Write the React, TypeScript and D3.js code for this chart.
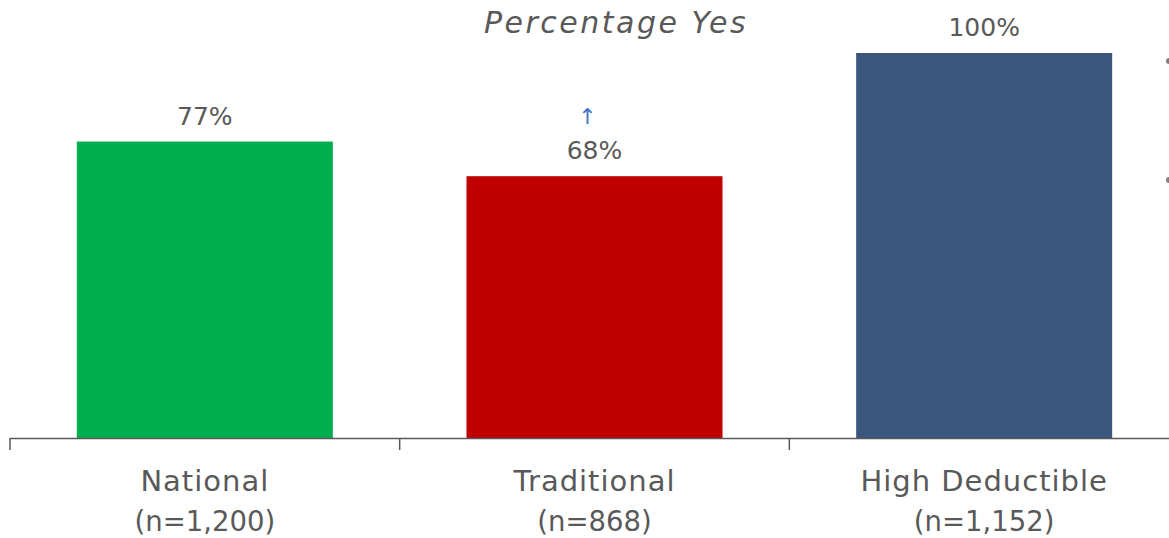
import React from "react";
import * as d3 from "d3";

const categories = ["National", "Traditional", "High Deductible"];
const sampleSizes = ["(n=1,200)", "(n=868)", "(n=1,152)"];
const values = [77, 68, 100];
const colors = ["#00AE4D", "#C00000", "#3A557E"];
const arrows = ["", "↑", ""];
const title = "Percentage Yes";

const W = 1169;
const H = 538;
const FONT = "'DejaVu Sans', sans-serif";

export default function App() {
  const x = d3.scaleBand<string>().domain(categories).range([10, 1179]).paddingInner(0.343).paddingOuter(0.1715);
  const band = d3.scaleBand<string>().domain(categories).range([10, 1179]);
  const y = d3.scaleLinear().domain([0, 100]).range([438, 53]);
  const ticks = [...categories.map((c) => band(c) as number), 1179];
  return (
    <svg width={W} height={H} style={{ position: "absolute", left: 0, top: 0, background: "#fff" }}>
      <text x={616} y={33} textAnchor="middle" fontFamily={FONT} fontStyle="italic" fontSize={30} letterSpacing={2.5} fill="#595959">
        {title}
      </text>
      {categories.map((c, i) => (
        <g key={c}>
          <rect x={x(c)} y={y(values[i])} width={x.bandwidth()} height={y(0) - y(values[i])} fill={colors[i]} />
          <text
            x={(x(c) as number) + x.bandwidth() / 2}
            y={y(values[i]) - 17}
            textAnchor="middle"
            fontFamily={FONT}
            fontSize={25}
            fill="#595959"
          >
            {values[i]}%
          </text>
          {arrows[i] && (
            <text
              x={(x(c) as number) + x.bandwidth() / 2 - 7}
              y={y(values[i]) - 52}
              textAnchor="middle"
              fontFamily={FONT}
              fontSize={22}
              fill="#4472C4"
            >
              {arrows[i]}
            </text>
          )}
          <text
            x={(band(c) as number) + band.bandwidth() / 2}
            y={491}
            textAnchor="middle"
            fontFamily={FONT}
            fontSize={29}
            letterSpacing={1}
            fill="#595959"
          >
            {c}
          </text>
          <text
            x={(band(c) as number) + band.bandwidth() / 2}
            y={531}
            textAnchor="middle"
            fontFamily={FONT}
            fontSize={27.5}
            fill="#595959"
          >
            {sampleSizes[i]}
          </text>
        </g>
      ))}
      <line x1={10} x2={1179} y1={438.5} y2={438.5} stroke="#595959" strokeWidth={1.5} />
      {ticks.map((t, i) => (
        <line key={i} x1={t} x2={t} y1={438} y2={450} stroke="#595959" strokeWidth={1.5} />
      ))}
      <circle cx={1169} cy={61} r={3} fill="#7F7F7F" />
      <circle cx={1169} cy={180} r={3} fill="#7F7F7F" />
    </svg>
  );
}
